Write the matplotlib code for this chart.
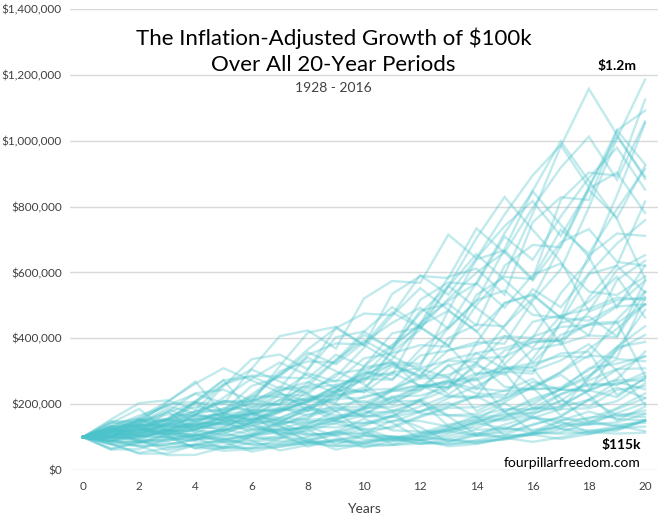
import matplotlib.pyplot as plt
import matplotlib.ticker as mticker
import numpy as np

# S&P 500 total return by year, %, 1928-2016
years = list(range(1928, 2017))
sp500_return = [
    43.81, -8.30, -25.12, -43.84, -8.64, 49.98, -1.19, 46.74, 31.94, -35.34,
    29.28, -1.10, -10.67, -12.77, 19.17, 25.06, 19.03, 35.82, -8.43, 5.20,
    5.70, 18.30, 30.81, 23.68, 18.15, -1.21, 52.56, 32.60, 7.44, -10.46,
    43.72, 12.06, 0.34, 26.64, -8.81, 22.61, 16.42, 12.40, -9.97, 23.80,
    10.81, -8.24, 3.56, 14.22, 18.76, -14.31, -25.90, 37.00, 23.83, -6.98,
    6.51, 18.52, 31.74, -4.70, 20.42, 22.34, 6.15, 31.24, 18.49, 5.81,
    16.54, 31.48, -3.06, 30.23, 7.49, 9.97, 1.33, 37.20, 22.68, 33.10,
    28.34, 20.89, -9.03, -11.85, -21.97, 28.36, 10.74, 4.83, 15.61, 5.48,
    -36.55, 25.94, 14.82, 2.10, 15.89, 32.15, 13.52, 1.38, 11.77,
]
# CPI inflation by year, %, 1928-2016
cpi_inflation = [
    -0.97, 0.20, -6.03, -9.52, -10.30, 0.51, 2.03, 2.99, 1.21, 3.10,
    -2.78, -0.48, 0.96, 9.72, 9.29, 3.16, 2.11, 2.25, 18.13, 8.84,
    2.99, -2.07, 5.93, 6.00, 0.75, 0.75, -0.74, 0.37, 2.99, 2.90,
    1.76, 1.73, 1.36, 0.67, 1.33, 1.64, 0.97, 1.92, 3.46, 3.04,
    4.72, 6.20, 5.57, 3.27, 3.41, 8.71, 12.34, 6.94, 4.86, 6.70,
    9.02, 13.29, 12.52, 8.92, 3.83, 3.79, 3.95, 3.80, 1.10, 4.43,
    4.42, 4.65, 6.11, 3.06, 2.90, 2.75, 2.67, 2.54, 3.32, 1.70,
    1.61, 2.68, 3.39, 1.55, 2.38, 1.88, 3.26, 3.42, 2.54, 4.08,
    0.09, 2.72, 1.50, 2.96, 1.74, 1.50, 0.76, 0.73, 2.07,
]
start_value = 100000
period = 20

y_ticks = [0, 200000, 400000, 600000, 800000, 1000000, 1200000, 1400000]
x_ticks = list(range(0, 21, 2))

real_growth = (1 + np.array(sp500_return) / 100) / (1 + np.array(cpi_inflation) / 100)

plt.rcParams['font.family'] = ['Lato', 'DejaVu Sans']

fig = plt.figure(figsize=(6.67, 5.23), dpi=100)
ax = fig.add_axes([0.105, 0.1013, 0.8815, 0.8815])

t = np.arange(period + 1)
for s in range(len(years) - period + 1):
    path = start_value * np.concatenate([[1], np.cumprod(real_growth[s:s + period])])
    ax.plot(t, path, color='#4cc3cb', alpha=0.35, lw=1.7, solid_joinstyle='miter')

ax.set_xlim(-0.46, 20.46)
ax.set_ylim(0, 1400000)
ax.set_yticks(y_ticks)
ax.set_xticks(x_ticks)
ax.yaxis.set_major_formatter(mticker.FuncFormatter(lambda v, p: f'${v:,.0f}'))
ax.grid(axis='y', color='#d9d9d9', lw=1)
ax.set_axisbelow(True)
for sp in ax.spines.values():
    sp.set_visible(False)
ax.tick_params(length=0, labelsize=8.5, colors='#404040', pad=6)
ax.tick_params(axis='x', pad=8)
ax.set_xlabel('Years', fontsize=10, color='#404040', labelpad=8)

fig.text(0.5, 0.927, 'The Inflation-Adjusted Growth of $100k', ha='center', va='center', fontsize=16)
fig.text(0.5, 0.876, 'Over All 20-Year Periods', ha='center', va='center', fontsize=16)
fig.text(0.5, 0.832, '1928 - 2016', ha='center', va='center', fontsize=10, color='#404040')
ax.text(19.7, 1208000, '$1.2m', ha='right', va='bottom', fontsize=10, fontweight='bold')
ax.text(19.85, 75000, '$115k', ha='right', va='center', fontsize=10, fontweight='bold')
ax.text(19.85, 20000, 'fourpillarfreedom.com', ha='right', va='center', fontsize=10)

fig.savefig('out.png', dpi=100)
